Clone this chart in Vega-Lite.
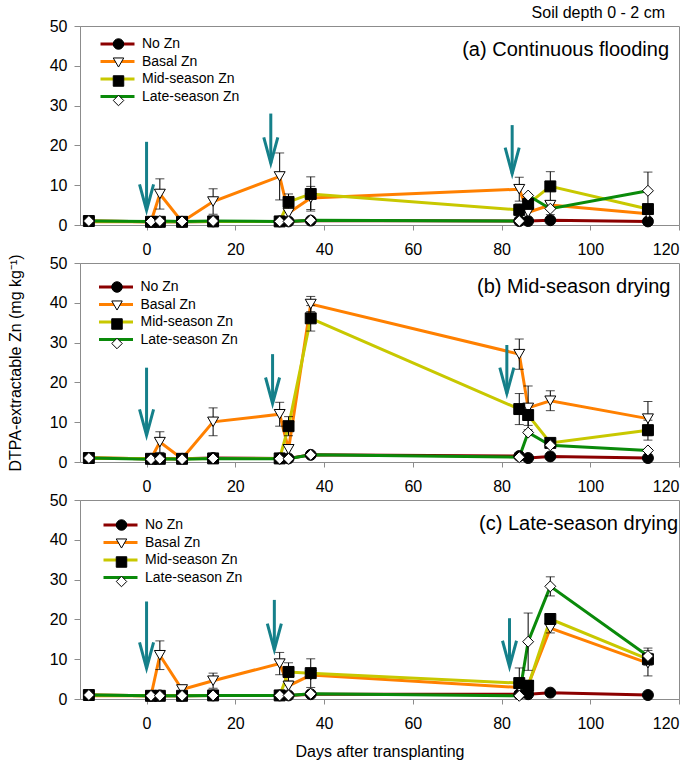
{
"$schema": "https://vega.github.io/schema/vega-lite/v6.json",
"padding": {"left": 6, "top": 4, "right": 0, "bottom": 0},
"spacing": -5,
"title": {"text": "Soil depth 0 - 2 cm", "anchor": "end", "fontSize": 16, "fontWeight": "normal", "font": "Liberation Sans", "color": "black", "dx": -15, "offset": -4.5},
"datasets": {
"pts": [
{"panel":"a","series":"No Zn","day":-13,"v":1.0,"err":0},{"panel":"a","series":"No Zn","day":1,"v":0.8,"err":0},{"panel":"a","series":"No Zn","day":3,"v":0.8,"err":0},{"panel":"a","series":"No Zn","day":8,"v":0.8,"err":0},{"panel":"a","series":"No Zn","day":15,"v":0.9,"err":0},{"panel":"a","series":"No Zn","day":30,"v":0.9,"err":0},{"panel":"a","series":"No Zn","day":32,"v":0.9,"err":0},{"panel":"a","series":"No Zn","day":37,"v":1.1,"err":0},{"panel":"a","series":"No Zn","day":84,"v":1.0,"err":0},{"panel":"a","series":"No Zn","day":86,"v":1.0,"err":0},{"panel":"a","series":"No Zn","day":91,"v":1.2,"err":0},{"panel":"a","series":"No Zn","day":113,"v":0.9,"err":0},
{"panel":"a","series":"Basal Zn","day":-13,"v":0.8,"err":0},{"panel":"a","series":"Basal Zn","day":1,"v":0.8,"err":0},{"panel":"a","series":"Basal Zn","day":3,"v":7.8,"err":3.8},{"panel":"a","series":"Basal Zn","day":8,"v":0.8,"err":0},{"panel":"a","series":"Basal Zn","day":15,"v":5.9,"err":3.2},{"panel":"a","series":"Basal Zn","day":30,"v":12.2,"err":5.9},{"panel":"a","series":"Basal Zn","day":32,"v":3.0,"err":0},{"panel":"a","series":"Basal Zn","day":37,"v":6.8,"err":2.9},{"panel":"a","series":"Basal Zn","day":84,"v":9.0,"err":3.0},{"panel":"a","series":"Basal Zn","day":86,"v":3.2,"err":0},{"panel":"a","series":"Basal Zn","day":91,"v":5.0,"err":0.8},{"panel":"a","series":"Basal Zn","day":113,"v":2.8,"err":0},
{"panel":"a","series":"Mid-season Zn","day":-13,"v":1.0,"err":0},{"panel":"a","series":"Mid-season Zn","day":1,"v":0.8,"err":0},{"panel":"a","series":"Mid-season Zn","day":3,"v":0.8,"err":0},{"panel":"a","series":"Mid-season Zn","day":8,"v":0.8,"err":0},{"panel":"a","series":"Mid-season Zn","day":15,"v":0.9,"err":0},{"panel":"a","series":"Mid-season Zn","day":30,"v":0.9,"err":0},{"panel":"a","series":"Mid-season Zn","day":32,"v":5.8,"err":2.0},{"panel":"a","series":"Mid-season Zn","day":37,"v":7.8,"err":4.3},{"panel":"a","series":"Mid-season Zn","day":84,"v":3.8,"err":1.5},{"panel":"a","series":"Mid-season Zn","day":86,"v":5.3,"err":1.0},{"panel":"a","series":"Mid-season Zn","day":91,"v":9.7,"err":3.7},{"panel":"a","series":"Mid-season Zn","day":113,"v":4.0,"err":1.0},
{"panel":"a","series":"Late-season Zn","day":-13,"v":1.0,"err":0},{"panel":"a","series":"Late-season Zn","day":1,"v":0.9,"err":0},{"panel":"a","series":"Late-season Zn","day":3,"v":1.0,"err":0},{"panel":"a","series":"Late-season Zn","day":8,"v":0.9,"err":0},{"panel":"a","series":"Late-season Zn","day":15,"v":1.0,"err":0},{"panel":"a","series":"Late-season Zn","day":30,"v":0.9,"err":0},{"panel":"a","series":"Late-season Zn","day":32,"v":0.9,"err":0},{"panel":"a","series":"Late-season Zn","day":37,"v":1.2,"err":0},{"panel":"a","series":"Late-season Zn","day":84,"v":1.0,"err":0},{"panel":"a","series":"Late-season Zn","day":86,"v":7.4,"err":0},{"panel":"a","series":"Late-season Zn","day":91,"v":4.1,"err":1.5},{"panel":"a","series":"Late-season Zn","day":113,"v":8.6,"err":4.7},
{"panel":"b","series":"No Zn","day":-13,"v":1.0,"err":0},{"panel":"b","series":"No Zn","day":1,"v":0.8,"err":0},{"panel":"b","series":"No Zn","day":3,"v":0.9,"err":0},{"panel":"b","series":"No Zn","day":8,"v":0.8,"err":0},{"panel":"b","series":"No Zn","day":15,"v":1.0,"err":0},{"panel":"b","series":"No Zn","day":30,"v":0.9,"err":0},{"panel":"b","series":"No Zn","day":32,"v":0.9,"err":0},{"panel":"b","series":"No Zn","day":37,"v":1.8,"err":0},{"panel":"b","series":"No Zn","day":84,"v":1.5,"err":0},{"panel":"b","series":"No Zn","day":86,"v":1.0,"err":0},{"panel":"b","series":"No Zn","day":91,"v":1.4,"err":0},{"panel":"b","series":"No Zn","day":113,"v":1.0,"err":0},
{"panel":"b","series":"Basal Zn","day":-13,"v":1.0,"err":0},{"panel":"b","series":"Basal Zn","day":1,"v":0.8,"err":0},{"panel":"b","series":"Basal Zn","day":3,"v":5.0,"err":2.6},{"panel":"b","series":"Basal Zn","day":8,"v":0.8,"err":0},{"panel":"b","series":"Basal Zn","day":15,"v":10.1,"err":3.5},{"panel":"b","series":"Basal Zn","day":30,"v":12.0,"err":3.0},{"panel":"b","series":"Basal Zn","day":32,"v":3.2,"err":0},{"panel":"b","series":"Basal Zn","day":37,"v":39.7,"err":1.9},{"panel":"b","series":"Basal Zn","day":84,"v":27.1,"err":3.8},{"panel":"b","series":"Basal Zn","day":86,"v":13.6,"err":5.5},{"panel":"b","series":"Basal Zn","day":91,"v":15.4,"err":2.5},{"panel":"b","series":"Basal Zn","day":113,"v":10.9,"err":4.3},
{"panel":"b","series":"Mid-season Zn","day":-13,"v":1.0,"err":0},{"panel":"b","series":"Mid-season Zn","day":1,"v":0.8,"err":0},{"panel":"b","series":"Mid-season Zn","day":3,"v":0.8,"err":0},{"panel":"b","series":"Mid-season Zn","day":8,"v":0.8,"err":0},{"panel":"b","series":"Mid-season Zn","day":15,"v":0.9,"err":0},{"panel":"b","series":"Mid-season Zn","day":30,"v":0.9,"err":0},{"panel":"b","series":"Mid-season Zn","day":32,"v":9.0,"err":2.4},{"panel":"b","series":"Mid-season Zn","day":37,"v":36.1,"err":3.2},{"panel":"b","series":"Mid-season Zn","day":84,"v":13.3,"err":3.9},{"panel":"b","series":"Mid-season Zn","day":86,"v":11.8,"err":2.6},{"panel":"b","series":"Mid-season Zn","day":91,"v":4.8,"err":0.8},{"panel":"b","series":"Mid-season Zn","day":113,"v":8.0,"err":2.5},
{"panel":"b","series":"Late-season Zn","day":-13,"v":1.0,"err":0},{"panel":"b","series":"Late-season Zn","day":1,"v":0.7,"err":0},{"panel":"b","series":"Late-season Zn","day":3,"v":0.8,"err":0},{"panel":"b","series":"Late-season Zn","day":8,"v":0.7,"err":0},{"panel":"b","series":"Late-season Zn","day":15,"v":0.9,"err":0},{"panel":"b","series":"Late-season Zn","day":30,"v":0.8,"err":0},{"panel":"b","series":"Late-season Zn","day":32,"v":0.8,"err":0},{"panel":"b","series":"Late-season Zn","day":37,"v":1.8,"err":0},{"panel":"b","series":"Late-season Zn","day":84,"v":1.2,"err":0},{"panel":"b","series":"Late-season Zn","day":86,"v":7.4,"err":0},{"panel":"b","series":"Late-season Zn","day":91,"v":4.2,"err":0},{"panel":"b","series":"Late-season Zn","day":113,"v":2.9,"err":0},
{"panel":"c","series":"No Zn","day":-13,"v":1.0,"err":0},{"panel":"c","series":"No Zn","day":1,"v":0.8,"err":0},{"panel":"c","series":"No Zn","day":3,"v":0.9,"err":0},{"panel":"c","series":"No Zn","day":8,"v":0.8,"err":0},{"panel":"c","series":"No Zn","day":15,"v":0.9,"err":0},{"panel":"c","series":"No Zn","day":30,"v":0.9,"err":0},{"panel":"c","series":"No Zn","day":32,"v":0.9,"err":0},{"panel":"c","series":"No Zn","day":37,"v":1.2,"err":0},{"panel":"c","series":"No Zn","day":84,"v":1.2,"err":0},{"panel":"c","series":"No Zn","day":86,"v":1.2,"err":0},{"panel":"c","series":"No Zn","day":91,"v":1.6,"err":0},{"panel":"c","series":"No Zn","day":113,"v":1.0,"err":0},
{"panel":"c","series":"Basal Zn","day":-13,"v":0.8,"err":0},{"panel":"c","series":"Basal Zn","day":1,"v":0.8,"err":0},{"panel":"c","series":"Basal Zn","day":3,"v":11.0,"err":3.6},{"panel":"c","series":"Basal Zn","day":8,"v":2.4,"err":0.7},{"panel":"c","series":"Basal Zn","day":15,"v":4.6,"err":1.9},{"panel":"c","series":"Basal Zn","day":30,"v":8.9,"err":2.8},{"panel":"c","series":"Basal Zn","day":32,"v":3.3,"err":0},{"panel":"c","series":"Basal Zn","day":37,"v":6.0,"err":0},{"panel":"c","series":"Basal Zn","day":84,"v":2.9,"err":0},{"panel":"c","series":"Basal Zn","day":86,"v":3.5,"err":0},{"panel":"c","series":"Basal Zn","day":91,"v":17.8,"err":1.2},{"panel":"c","series":"Basal Zn","day":113,"v":9.0,"err":3.2},
{"panel":"c","series":"Mid-season Zn","day":-13,"v":1.0,"err":0},{"panel":"c","series":"Mid-season Zn","day":1,"v":0.8,"err":0},{"panel":"c","series":"Mid-season Zn","day":3,"v":0.8,"err":0},{"panel":"c","series":"Mid-season Zn","day":8,"v":0.8,"err":0},{"panel":"c","series":"Mid-season Zn","day":15,"v":0.9,"err":0},{"panel":"c","series":"Mid-season Zn","day":30,"v":0.9,"err":0},{"panel":"c","series":"Mid-season Zn","day":32,"v":6.8,"err":2.3},{"panel":"c","series":"Mid-season Zn","day":37,"v":6.5,"err":3.6},{"panel":"c","series":"Mid-season Zn","day":84,"v":4.0,"err":3.8},{"panel":"c","series":"Mid-season Zn","day":86,"v":3.3,"err":0},{"panel":"c","series":"Mid-season Zn","day":91,"v":20.1,"err":1.0},{"panel":"c","series":"Mid-season Zn","day":113,"v":10.0,"err":1.5},
{"panel":"c","series":"Late-season Zn","day":-13,"v":1.0,"err":0},{"panel":"c","series":"Late-season Zn","day":1,"v":0.8,"err":0},{"panel":"c","series":"Late-season Zn","day":3,"v":0.8,"err":0},{"panel":"c","series":"Late-season Zn","day":8,"v":0.8,"err":0},{"panel":"c","series":"Late-season Zn","day":15,"v":0.9,"err":0},{"panel":"c","series":"Late-season Zn","day":30,"v":0.9,"err":0},{"panel":"c","series":"Late-season Zn","day":32,"v":0.9,"err":0},{"panel":"c","series":"Late-season Zn","day":37,"v":1.3,"err":0},{"panel":"c","series":"Late-season Zn","day":84,"v":0.8,"err":0},{"panel":"c","series":"Late-season Zn","day":86,"v":14.4,"err":7.2},{"panel":"c","series":"Late-season Zn","day":91,"v":28.3,"err":2.4},{"panel":"c","series":"Late-season Zn","day":113,"v":10.8,"err":2.0}
],
"arrows": [
{"panel":"a","day":0,"v":3.7,"v2":20.9},{"panel":"a","day":28.0,"v":15.5,"v2":28.0},{"panel":"a","day":82.4,"v":12.9,"v2":25.1},
{"panel":"b","day":0,"v":6.7,"v2":23.7},{"panel":"b","day":28.4,"v":14.7,"v2":27.1},{"panel":"b","day":81.2,"v":17.2,"v2":29.4},
{"panel":"c","day":0,"v":7.7,"v2":24.5},{"panel":"c","day":28.8,"v":12.4,"v2":24.9},{"panel":"c","day":81.8,"v":8.1,"v2":20.3}
]
},
"vconcat": [
{
"width": 599, "height": 199,
"title": {"text": "(a) Continuous flooding", "anchor": "end", "frame": "group", "offset": -43.5, "fontSize": 20, "fontWeight": "normal", "dx": -10},
"encoding": {
"x": {"field": "day", "type": "quantitative", "scale": {"domain": [-15, 120], "nice": false, "zero": false}, "axis": {"values": [0,20,40,60,80,100,120], "title": null}},
"y": {"field": "v", "type": "quantitative", "scale": {"domain": [0, 50], "nice": false}, "axis": {"values": [0,10,20,30,40,50], "title": "DTPA-extractable Zn (mg kg⁻¹)", "titleOpacity": 0}}
},
"layer": [
{"data": {"name": "pts"}, "transform": [{"filter": "datum.panel === 'a'"}], "mark": {"type": "line", "strokeWidth": 3},
 "encoding": {"color": {"field": "series", "type": "nominal", "scale": {"domain": ["No Zn","Basal Zn","Mid-season Zn","Late-season Zn"], "range": ["#8b0000","#ff8000","#c8c800","#0a8a0a"]},
  "legend": {"title": null, "orient": "none", "direction": "vertical", "legendX": 30.5, "legendY": 11, "symbolType": "M-3.4,0L3.4,0", "symbolSize": 100, "symbolStrokeWidth": 3, "labelOffset": 17.5}}}},
{"data": {"name": "pts"}, "transform": [{"filter": "datum.panel === 'a' && datum.err > 0"}], "mark": {"type": "errorbar", "ticks": true, "color": "black", "thickness": 1, "size": 9},
 "encoding": {"yError": {"field": "err"}}},
{"data": {"name": "pts"}, "transform": [{"filter": "datum.panel === 'a'"}], "mark": {"type": "point", "filled": true, "strokeWidth": 1, "size": 120, "opacity": 1},
 "encoding": {"shape": {"field": "series", "type": "nominal", "scale": {"range": ["triangle-down","diamond","square","circle"]},
  "legend": {"title": null, "orient": "none", "direction": "vertical", "legendX": 31.5, "legendY": 11, "values": ["No Zn","Basal Zn","Mid-season Zn","Late-season Zn"], "labelExpr": "''", "symbolStrokeWidth": 1, "symbolSize": 110}},
  "fill": {"field": "series", "type": "nominal", "scale": {"range": ["white","white","black","black"]}},
  "stroke": {"field": "series", "type": "nominal", "scale": {"range": ["black","black","black","black"]}}}},
{"data": {"name": "arrows"}, "transform": [{"filter": "datum.panel === 'a'"}], "mark": {"type": "rule", "color": "#15808a", "strokeWidth": 3}, "encoding": {"y2": {"field": "v2"}}},
{"data": {"name": "arrows"}, "transform": [{"filter": "datum.panel === 'a'"}], "mark": {"type": "point", "shape": "M-0.27,-1L0,0L0.27,-1", "size": 2704, "filled": false, "stroke": "#15808a", "strokeWidth": 3, "opacity": 1}, "encoding": {}}
]
},
{
"width": 599, "height": 199,
"title": {"text": "(b) Mid-season drying", "anchor": "end", "frame": "group", "offset": -43.5, "fontSize": 20, "fontWeight": "normal", "dx": -8.5},
"encoding": {
"x": {"field": "day", "type": "quantitative", "scale": {"domain": [-15, 120], "nice": false, "zero": false}, "axis": {"values": [0,20,40,60,80,100,120], "title": null}},
"y": {"field": "v", "type": "quantitative", "scale": {"domain": [0, 50], "nice": false}, "axis": {"values": [0,10,20,30,40,50], "title": "DTPA-extractable Zn (mg kg⁻¹)"}}
},
"layer": [
{"data": {"name": "pts"}, "transform": [{"filter": "datum.panel === 'b'"}], "mark": {"type": "line", "strokeWidth": 3},
 "encoding": {"color": {"field": "series", "type": "nominal", "scale": {"domain": ["No Zn","Basal Zn","Mid-season Zn","Late-season Zn"], "range": ["#8b0000","#ff8000","#c8c800","#0a8a0a"]},
  "legend": {"title": null, "orient": "none", "direction": "vertical", "legendX": 29, "legendY": 17, "symbolType": "M-3.4,0L3.4,0", "symbolSize": 100, "symbolStrokeWidth": 3, "labelOffset": 17.5}}}},
{"data": {"name": "pts"}, "transform": [{"filter": "datum.panel === 'b' && datum.err > 0"}], "mark": {"type": "errorbar", "ticks": true, "color": "black", "thickness": 1, "size": 9},
 "encoding": {"yError": {"field": "err"}}},
{"data": {"name": "pts"}, "transform": [{"filter": "datum.panel === 'b'"}], "mark": {"type": "point", "filled": true, "strokeWidth": 1, "size": 120, "opacity": 1},
 "encoding": {"shape": {"field": "series", "type": "nominal", "scale": {"range": ["triangle-down","diamond","square","circle"]},
  "legend": {"title": null, "orient": "none", "direction": "vertical", "legendX": 30, "legendY": 17, "values": ["No Zn","Basal Zn","Mid-season Zn","Late-season Zn"], "labelExpr": "''", "symbolStrokeWidth": 1, "symbolSize": 110}},
  "fill": {"field": "series", "type": "nominal", "scale": {"range": ["white","white","black","black"]}},
  "stroke": {"field": "series", "type": "nominal", "scale": {"range": ["black","black","black","black"]}}}},
{"data": {"name": "arrows"}, "transform": [{"filter": "datum.panel === 'b'"}], "mark": {"type": "rule", "color": "#15808a", "strokeWidth": 3}, "encoding": {"y2": {"field": "v2"}}},
{"data": {"name": "arrows"}, "transform": [{"filter": "datum.panel === 'b'"}], "mark": {"type": "point", "shape": "M-0.27,-1L0,0L0.27,-1", "size": 2704, "filled": false, "stroke": "#15808a", "strokeWidth": 3, "opacity": 1}, "encoding": {}}
]
},
{
"width": 599, "height": 199,
"title": {"text": "(c) Late-season drying", "anchor": "end", "frame": "group", "offset": -43.5, "fontSize": 20, "fontWeight": "normal", "dx": -1},
"encoding": {
"x": {"field": "day", "type": "quantitative", "scale": {"domain": [-15, 120], "nice": false, "zero": false}, "axis": {"values": [0,20,40,60,80,100,120], "title": "Days after transplanting"}},
"y": {"field": "v", "type": "quantitative", "scale": {"domain": [0, 50], "nice": false}, "axis": {"values": [0,10,20,30,40,50], "title": "DTPA-extractable Zn (mg kg⁻¹)", "titleOpacity": 0}}
},
"layer": [
{"data": {"name": "pts"}, "transform": [{"filter": "datum.panel === 'c'"}], "mark": {"type": "line", "strokeWidth": 3},
 "encoding": {"color": {"field": "series", "type": "nominal", "scale": {"domain": ["No Zn","Basal Zn","Mid-season Zn","Late-season Zn"], "range": ["#8b0000","#ff8000","#c8c800","#0a8a0a"]},
  "legend": {"title": null, "orient": "none", "direction": "vertical", "legendX": 33.5, "legendY": 18, "symbolType": "M-3.4,0L3.4,0", "symbolSize": 100, "symbolStrokeWidth": 3, "labelOffset": 17.5}}}},
{"data": {"name": "pts"}, "transform": [{"filter": "datum.panel === 'c' && datum.err > 0"}], "mark": {"type": "errorbar", "ticks": true, "color": "black", "thickness": 1, "size": 9},
 "encoding": {"yError": {"field": "err"}}},
{"data": {"name": "pts"}, "transform": [{"filter": "datum.panel === 'c'"}], "mark": {"type": "point", "filled": true, "strokeWidth": 1, "size": 120, "opacity": 1},
 "encoding": {"shape": {"field": "series", "type": "nominal", "scale": {"range": ["triangle-down","diamond","square","circle"]},
  "legend": {"title": null, "orient": "none", "direction": "vertical", "legendX": 34.5, "legendY": 18, "values": ["No Zn","Basal Zn","Mid-season Zn","Late-season Zn"], "labelExpr": "''", "symbolStrokeWidth": 1, "symbolSize": 110}},
  "fill": {"field": "series", "type": "nominal", "scale": {"range": ["white","white","black","black"]}},
  "stroke": {"field": "series", "type": "nominal", "scale": {"range": ["black","black","black","black"]}}}},
{"data": {"name": "arrows"}, "transform": [{"filter": "datum.panel === 'c'"}], "mark": {"type": "rule", "color": "#15808a", "strokeWidth": 3}, "encoding": {"y2": {"field": "v2"}}},
{"data": {"name": "arrows"}, "transform": [{"filter": "datum.panel === 'c'"}], "mark": {"type": "point", "shape": "M-0.27,-1L0,0L0.27,-1", "size": 2704, "filled": false, "stroke": "#15808a", "strokeWidth": 3, "opacity": 1}, "encoding": {}}
]
}
],
"resolve": {"legend": {"color": "independent", "shape": "independent", "fill": "independent", "stroke": "independent"}},
"config": {
"font": "Liberation Sans",
"view": {"stroke": "#8c8c8c", "strokeWidth": 1},
"title": {"color": "black", "font": "Liberation Sans"},
"axis": {"grid": false, "domainColor": "#8c8c8c", "tickColor": "#8c8c8c", "labelColor": "black", "labelFontSize": 16, "labelFont": "Liberation Sans", "titleFont": "Liberation Sans", "titleFontSize": 16, "titleFontWeight": "normal", "titleColor": "black"},
"axisX": {"tickSize": 5, "labelPadding": 11, "titlePadding": 12},
"axisY": {"tickSize": 6, "labelPadding": 7, "titlePadding": 26},
"legend": {"labelFontSize": 14, "labelFont": "Liberation Sans", "labelColor": "black", "rowPadding": 3.5, "padding": 0, "labelLimit": 300}
}
}
